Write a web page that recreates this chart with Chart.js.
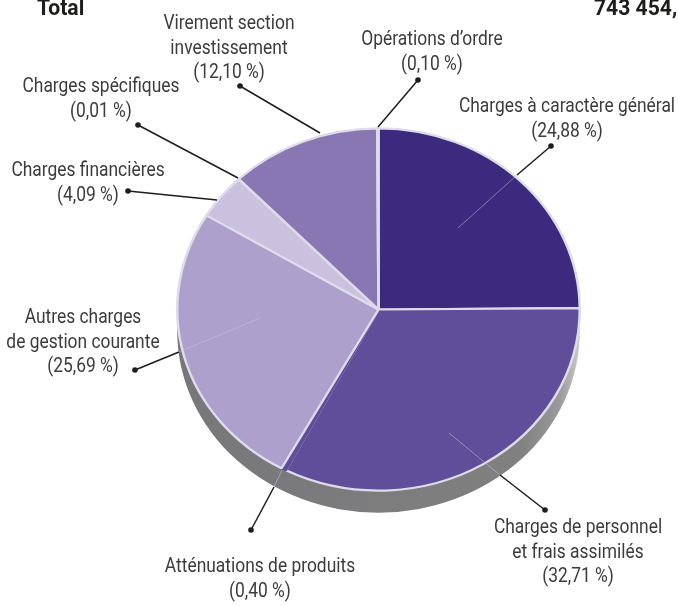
<!DOCTYPE html>
<html lang="fr">
<head>
    <meta charset="UTF-8">
    <title>Répartition des charges</title>
    <script src="https://cdn.jsdelivr.net/npm/chart.js@4"></script>
    <style>
        html, body { margin: 0; padding: 0; background: #fff; overflow: hidden; }
        #chart-container { width: 678px; height: 606px; }
    </style>
</head>
<body>
    <div id="chart-container">
        <canvas id="pie-chart" width="678" height="606"></canvas>
    </div>

    <script>
        // Chart values, clockwise from the top
        const categories = [
            'Charges à caractère général',
            'Charges de personnel et frais assimilés',
            'Atténuations de produits',
            'Autres charges de gestion courante',
            'Charges financières',
            'Charges spécifiques',
            'Virement section investissement',
            "Opérations d'ordre"
        ];
        const shares = [24.88, 32.71, 0.40, 25.69, 4.09, 0.01, 12.10, 0.10];
        const sliceColors = ['#3b2a7e', '#5f4f9b', '#5f4f9b', '#ada0cc', '#c9c1dd', '#dedbea', '#8977b3', '#dedbea'];
        const sliceBorders = ['#dedbea', '#dedbea', '#5f4f9b', '#dedbea', '#dedbea', '#dedbea', '#dedbea', '#dedbea'];

        const totalLabel = 'Total';
        const totalValue = '743 454,0';

        // Callout text lines
        const calloutLines = [
            ['Charges à caractère général', '(24,88 %)'],
            ['Charges de personnel', 'et frais assimilés', '(32,71 %)'],
            ['Atténuations de produits', '(0,40 %)'],
            ['Autres charges', 'de gestion courante', '(25,69 %)'],
            ['Charges financières', '(4,09 %)'],
            ['Charges spécifiques', '(0,01 %)'],
            ['Virement section', 'investissement', '(12,10 %)'],
            ['Opérations d’ordre', '(0,10 %)']
        ];
        // Where each callout sits: text centre, first line y, dot, end of black line, end of faint line
        const calloutLayout = [
            { x: 567, y: 107, dot: [551, 146], edge: [517, 175], inner: [458, 228] },
            { x: 578, y: 528, dot: [545, 510], edge: [500, 475], inner: [449, 433] },
            { x: 260, y: 567, dot: [251, 530], edge: [274, 487], inner: [282, 470] },
            { x: 83, y: 318, dot: [135, 370], edge: [179, 352], inner: [260, 318] },
            { x: 88, y: 171, dot: [128, 191], edge: [217, 200], inner: null },
            { x: 101, y: 87, dot: [138, 125], edge: [238, 178], inner: null },
            { x: 229, y: 24, dot: [240, 86], edge: [320, 133], inner: null },
            { x: 432, y: 40, dot: [418, 80], edge: [378, 127], inner: null }
        ];

        const SQUASH = 0.9;   // the pie is tilted, so it is drawn as an ellipse
        const DEPTH = 22;
        const LABEL_FONT = '20px Roboto, sans-serif';
        const TITLE_FONT = 'bold 22px Roboto, sans-serif';
        // no condensed face installed, so squeeze the text
        const LABEL_NARROW = 0.87;
        const TITLE_NARROW = 0.96;
        const LINE_HEIGHT = 24.5;

        function narrowText(ctx, text, x, y, amount) {
            ctx.save();
            ctx.translate(x, y);
            ctx.scale(amount, 1);
            ctx.fillText(text, 0, 0);
            ctx.restore();
        }

        // Tilt the pie and put the grey rim underneath it
        const tiltPlugin = {
            id: 'tilt',
            beforeDatasetsDraw(chart) {
                const ctx = chart.ctx;
                const arc = chart.getDatasetMeta(0).data[0];
                const cx = arc.x, cy = arc.y, rx = arc.outerRadius, ry = rx * SQUASH;

                const rim = ctx.createLinearGradient(cx - rx, 0, cx + rx, 0);
                rim.addColorStop(0, '#77777a');
                rim.addColorStop(0.85, '#808080');
                rim.addColorStop(0.95, '#9a9a9a');
                rim.addColorStop(1, '#c8c8c8');
                ctx.save();
                ctx.fillStyle = rim;
                ctx.beginPath();
                ctx.ellipse(cx, cy + DEPTH, rx, ry, 0, 0, Math.PI);
                ctx.lineTo(cx - rx, cy);
                ctx.lineTo(cx + rx, cy);
                ctx.closePath();
                ctx.fill();
                ctx.restore();

                ctx.save();
                ctx.translate(cx, cy);
                ctx.scale(1, SQUASH);
                ctx.translate(-cx, -cy);
            },
            afterDatasetsDraw(chart) {
                chart.ctx.restore();
            }
        };

        // Leaders and label text
        const calloutPlugin = {
            id: 'callouts',
            afterDraw(chart) {
                const ctx = chart.ctx;
                ctx.save();
                calloutLayout.forEach((c, i) => {
                    if (c.inner) {
                        ctx.strokeStyle = 'rgba(205,200,225,0.5)';
                        ctx.lineWidth = 1;
                        ctx.beginPath();
                        ctx.moveTo(c.edge[0], c.edge[1]);
                        ctx.lineTo(c.inner[0], c.inner[1]);
                        ctx.stroke();
                    }
                    ctx.strokeStyle = '#1d1d1b';
                    ctx.lineWidth = 1.5;
                    ctx.beginPath();
                    ctx.moveTo(c.dot[0], c.dot[1]);
                    ctx.lineTo(c.edge[0], c.edge[1]);
                    ctx.stroke();
                    ctx.fillStyle = '#1d1d1b';
                    ctx.beginPath();
                    ctx.arc(c.dot[0], c.dot[1], 2.8, 0, Math.PI * 2);
                    ctx.fill();

                    ctx.fillStyle = '#3c3c3b';
                    ctx.font = LABEL_FONT;
                    ctx.textAlign = 'center';
                    ctx.textBaseline = 'middle';
                    calloutLines[i].forEach((line, n) => {
                        narrowText(ctx, line, c.x, c.y + n * LINE_HEIGHT, LABEL_NARROW);
                    });
                });

                ctx.fillStyle = '#1d1d1b';
                ctx.font = TITLE_FONT;
                ctx.textAlign = 'left';
                ctx.textBaseline = 'alphabetic';
                narrowText(ctx, totalLabel, 37, 15, TITLE_NARROW);
                narrowText(ctx, totalValue, 594, 15, TITLE_NARROW);
                ctx.restore();
            }
        };

        new Chart(document.getElementById('pie-chart').getContext('2d'), {
            type: 'pie',
            data: {
                labels: categories,
                datasets: [{
                    data: shares,
                    backgroundColor: sliceColors,
                    borderColor: sliceBorders,
                    borderWidth: 2.5,
                    clip: false
                }]
            },
            options: {
                responsive: false,
                animation: false,
                layout: { padding: { left: 176, right: 97, top: 107, bottom: 94 } },
                plugins: { legend: { display: false }, tooltip: { enabled: false } }
            },
            plugins: [tiltPlugin, calloutPlugin]
        });
    </script>
</body>
</html>
